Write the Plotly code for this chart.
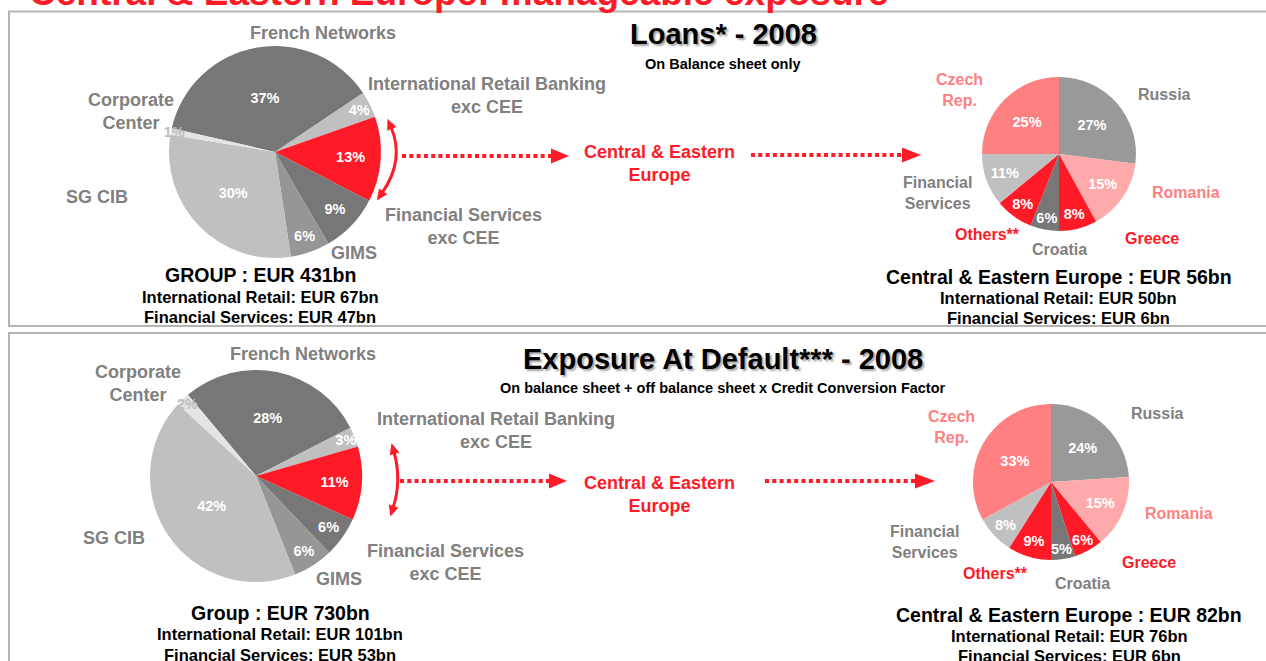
import math
import plotly.graph_objects as go

W, H = 1266, 661
FONT = "Arial, 'Liberation Sans', sans-serif"

# ---------------- data ----------------
group_segments = ["French Networks", "International Retail Banking exc CEE", "Central & Eastern Europe",
                  "Financial Services exc CEE", "GIMS", "SG CIB", "Corporate Center"]
loans_group_pct = [37, 4, 13, 9, 6, 30, 1]
ead_group_pct = [28, 3, 11, 6, 6, 42, 2]

cee_segments = ["Russia", "Romania", "Greece", "Croatia", "Others**", "Financial Services", "Czech Rep."]
loans_cee_pct = [27, 15, 8, 6, 8, 11, 25]
ead_cee_pct = [24, 15, 6, 5, 9, 8, 33]

loans_group_totals = ["GROUP : EUR 431bn", "International Retail: EUR 67bn", "Financial Services: EUR 47bn"]
loans_cee_totals = ["Central & Eastern Europe : EUR 56bn", "International Retail: EUR 50bn", "Financial Services: EUR 6bn"]
ead_group_totals = ["Group : EUR 730bn", "International Retail: EUR 101bn", "Financial Services: EUR 53bn"]
ead_cee_totals = ["Central & Eastern Europe : EUR 82bn", "International Retail: EUR 76bn", "Financial Services: EUR 6bn"]

page_title = "Central & Eastern Europe: manageable exposure"
loans_title = "Loans* - 2008"
loans_subtitle = "On Balance sheet only"
ead_title = "Exposure At Default*** - 2008"
ead_subtitle = "On balance sheet + off balance sheet x Credit Conversion Factor"

# ---------------- styles ----------------
RED = "#FF1A27"
GRAY_TXT = "#808080"
PINK_TXT = "#FF8080"
group_colors = ["#777777", "#C0C0C0", RED, "#777777", "#969696", "#C0C0C0", "#E4E4E4"]
group_txt_colors = ["white", "white", "white", "white", "white", "white", "#BDBDBD"]
cee_colors = ["#999999", "#FFAAAA", RED, "#777777", RED, "#C0C0C0", "#FF8080"]
cee_txt_colors = ["white"] * 7


def dom(cx, cy, r):
    return dict(x=[(cx - r) / W, (cx + r) / W], y=[(H - cy - r) / H, (H - cy + r) / H])


def pie(values, labels, colors, tcolors, cx, cy, r, rotation):
    return go.Pie(
        values=values, labels=labels, text=[f"{v}%" for v in values],
        textinfo="text", textposition="inside", insidetextorientation="horizontal",
        textfont=dict(family=FONT, size=14.5, color=tcolors, weight="bold"),
        marker=dict(colors=colors, line=dict(width=0)),
        sort=False, direction="clockwise", rotation=rotation,
        domain=dom(cx, cy, r), hoverinfo="skip", showlegend=False)


fig = go.Figure()
# invisible trace to create pixel-coordinate axes for decorations
fig.add_trace(go.Scatter(x=[0], y=[0], mode="markers", marker=dict(opacity=0),
                         hoverinfo="skip", showlegend=False))

fig.add_trace(pie(loans_group_pct, group_segments, group_colors, group_txt_colors, 275, 152, 106, -77))
fig.add_trace(pie(loans_cee_pct, cee_segments, cee_colors, cee_txt_colors, 1059, 154, 77, 0))
fig.add_trace(pie(ead_group_pct, group_segments, group_colors, group_txt_colors, 256, 476, 106, -40))
fig.add_trace(pie(ead_cee_pct, cee_segments, cee_colors, cee_txt_colors, 1051, 482, 78, 0))

ann = []


def txt(x, y, s, size, color, xanchor="center", yanchor="middle", shadow=None):
    f = dict(family=FONT, size=size, color=color, weight="bold")
    if shadow:
        f["shadow"] = shadow
    ann.append(dict(x=x, y=y, xref="x", yref="y", text=s, showarrow=False, font=f,
                    xanchor=xanchor, yanchor=yanchor, align="center"))


SH = "2px 2px 2px rgba(0,0,0,0.35)"
# page title (cut off at top)
txt(27, 14.8, page_title, 37, RED, xanchor="left", yanchor="bottom")

# ---- Loans section ----
txt(723, 33.6, loans_title, 29, "black", shadow=SH)
txt(723, 64, loans_subtitle, 14.5, "black")
txt(323, 32.5, group_segments[0], 18, GRAY_TXT)
txt(487, 95.5, "International Retail Banking<br>exc CEE", 18, GRAY_TXT)
txt(131, 111.5, "Corporate<br>Center", 18, GRAY_TXT)
txt(97, 197, group_segments[5], 18, GRAY_TXT)
txt(463, 226, "Financial Services<br>exc CEE", 18, GRAY_TXT)
txt(354, 253, group_segments[4], 18, GRAY_TXT)
txt(260, 274.5, loans_group_totals[0], 19.5, "black")
txt(260, 296.5, loans_group_totals[1], 16.5, "black")
txt(260, 316.5, loans_group_totals[2], 16.5, "black")
txt(659, 163, "Central & Eastern<br>Europe", 18, RED)
txt(959, 90, "Czech<br>Rep.", 16, PINK_TXT)
txt(1164, 94, cee_segments[0], 16, GRAY_TXT)
txt(1186, 192, cee_segments[1], 16, PINK_TXT)
txt(937, 193, "Financial<br>Services", 16, GRAY_TXT)
txt(987, 234, cee_segments[4], 16, RED)
txt(1152, 238, cee_segments[2], 16, RED)
txt(1059, 249, cee_segments[3], 16, GRAY_TXT)
txt(1059, 277, loans_cee_totals[0], 19.5, "black")
txt(1058, 298, loans_cee_totals[1], 16.5, "black")
txt(1058, 318, loans_cee_totals[2], 16.5, "black")

# ---- EAD section ----
txt(723, 359, ead_title, 29, "black", shadow=SH)
txt(723, 388, ead_subtitle, 14.5, "black")
txt(303, 354, group_segments[0], 18, GRAY_TXT)
txt(138, 383, "Corporate<br>Center", 18, GRAY_TXT)
txt(496, 430, "International Retail Banking<br>exc CEE", 18, GRAY_TXT)
txt(114, 538, group_segments[5], 18, GRAY_TXT)
txt(445, 562, "Financial Services<br>exc CEE", 18, GRAY_TXT)
txt(339, 579, group_segments[4], 18, GRAY_TXT)
txt(280, 613, ead_group_totals[0], 19.5, "black")
txt(280, 634, ead_group_totals[1], 16.5, "black")
txt(280, 654.5, ead_group_totals[2], 16.5, "black")
txt(659, 494, "Central & Eastern<br>Europe", 18, RED)
txt(951, 427, "Czech<br>Rep.", 16, PINK_TXT)
txt(1157, 413, cee_segments[0], 16, GRAY_TXT)
txt(1179, 513, cee_segments[1], 16, PINK_TXT)
txt(924, 542, "Financial<br>Services", 16, GRAY_TXT)
txt(995, 573, cee_segments[4], 16, RED)
txt(1149, 562, cee_segments[2], 16, RED)
txt(1082, 583, cee_segments[3], 16, GRAY_TXT)
txt(1069, 615, ead_cee_totals[0], 19.5, "black")
txt(1069, 636, ead_cee_totals[1], 16.5, "black")
txt(1069, 656, ead_cee_totals[2], 16.5, "black")

# ---------------- decorations ----------------
shapes = []
BORDER = "#B4B4B4"
shapes.append(dict(type="rect", xref="x", yref="y", x0=9, y0=11.5, x1=1300, y1=326,
                   line=dict(color=BORDER, width=2), layer="below"))
shapes.append(dict(type="rect", xref="x", yref="y", x0=9, y0=333, x1=1300, y1=700,
                   line=dict(color=BORDER, width=2), layer="below"))


def tri(tipx, tipy, dx, dy, L=11, Wd=10):
    n = math.hypot(dx, dy)
    ux, uy = dx / n, dy / n
    bx, by = tipx - ux * L, tipy - uy * L
    px, py = -uy, ux
    p = (f"M {tipx},{tipy} L {bx + px * Wd / 2},{by + py * Wd / 2} "
         f"L {bx - px * Wd / 2},{by - py * Wd / 2} Z")
    return dict(type="path", xref="x", yref="y", path=p, fillcolor=RED,
                line=dict(width=0), layer="above")


def dotted_arrow(x0, x1, tipx, y):
    shapes.append(dict(type="line", xref="x", yref="y", x0=x0, y0=y, x1=x1, y1=y,
                       line=dict(color=RED, width=4, dash="4px,3.3px"), layer="above"))
    shapes.append(tri(tipx, y, 1, 0, L=tipx - x1, Wd=15))


dotted_arrow(402, 551, 569, 156)
dotted_arrow(751, 902, 921, 155)
dotted_arrow(400, 549, 567, 481)
dotted_arrow(765, 915, 935, 481)


def arc(p0, c, p2):
    shapes.append(dict(type="path", xref="x", yref="y",
                       path=f"M {p0[0]},{p0[1]} Q {c[0]},{c[1]} {p2[0]},{p2[1]}",
                       line=dict(color=RED, width=3), layer="above"))
    d0 = (p0[0] - c[0], p0[1] - c[1])
    d2 = (p2[0] - c[0], p2[1] - c[1])
    n0, n2 = math.hypot(*d0), math.hypot(*d2)
    shapes.append(tri(p0[0] + d0[0] / n0 * 9, p0[1] + d0[1] / n0 * 9, d0[0], d0[1]))
    shapes.append(tri(p2[0] + d2[0] / n2 * 9, p2[1] + d2[1] / n2 * 9, d2[0], d2[1]))


arc((391, 127), (405, 160), (382, 193))
arc((394, 452), (402, 480), (393, 508))

fig.update_layout(
    width=W, height=H, margin=dict(l=0, r=0, t=0, b=0),
    paper_bgcolor="white", plot_bgcolor="white",
    xaxis=dict(range=[0, W], visible=False, fixedrange=True),
    yaxis=dict(range=[H, 0], visible=False, fixedrange=True),
    uniformtext=dict(minsize=14.5, mode="show"),
    annotations=ann, shapes=shapes, showlegend=False,
)

fig.write_html("out.html", config={"displayModeBar": False},
               post_script="document.body.style.margin='0';document.body.style.overflow='hidden';")
